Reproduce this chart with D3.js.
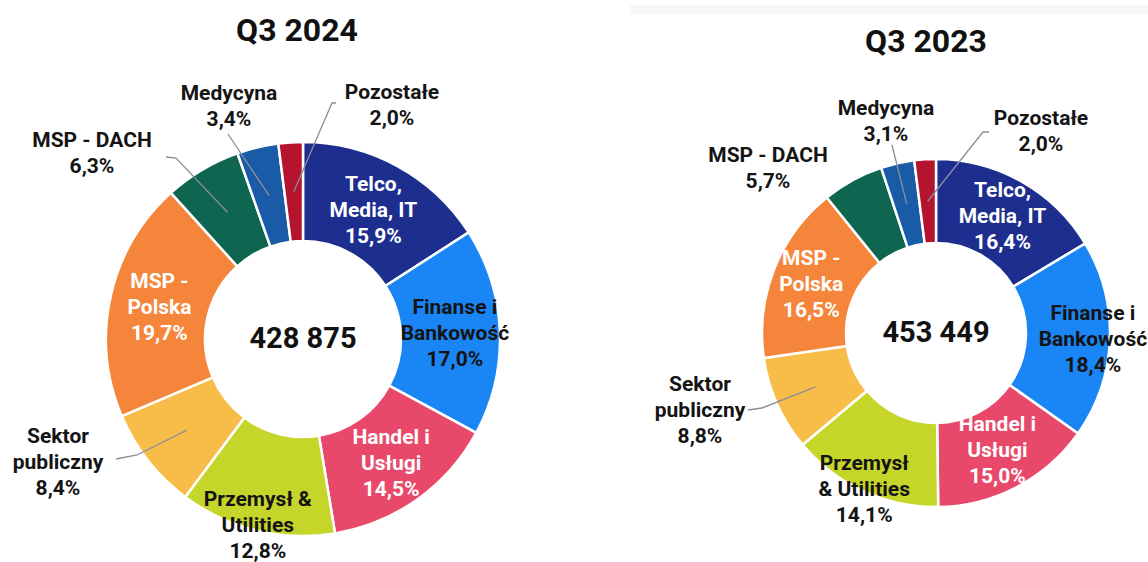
<!DOCTYPE html>
<html>
<head>
<meta charset="utf-8">
<script src="https://cdn.jsdelivr.net/npm/d3@7"></script>
<style>
  body { margin: 0; background: #fff; }
  svg { display: block; font-family: Roboto, "Noto Sans", sans-serif; }
</style>
</head>
<body>
<svg id="chart" width="1148" height="562"></svg>
<script>
// categories, clockwise from 12 o'clock
const categories = ["Telco", "Finanse", "Handel", "Przemysl", "Sektor", "MSP-Polska", "MSP-DACH", "Medycyna", "Pozostale"];
const share2024 = [15.9, 17.0, 14.5, 12.8, 8.4, 19.7, 6.3, 3.4, 2.0];
const share2023 = [16.4, 18.4, 15.0, 14.1, 8.8, 16.5, 5.7, 3.1, 2.0];
const labels2024 = [["Telco,", "Media, IT"], ["Finanse i", "Bankowość"], ["Handel i", "Usługi"], ["Przemysł &", "Utilities"],
  ["Sektor", "publiczny"], ["MSP -", "Polska"], ["MSP - DACH"], ["Medycyna"], ["Pozostałe"]];
const labels2023 = [["Telco,", "Media, IT"], ["Finanse i", "Bankowość"], ["Handel i", "Usługi"], ["Przemysł", "& Utilities"],
  ["Sektor", "publiczny"], ["MSP -", "Polska"], ["MSP - DACH"], ["Medycyna"], ["Pozostałe"]];
const titles = ["Q3 2024", "Q3 2023"];
const totals = ["428 875", "453 449"];

const colors = d3.scaleOrdinal()
  .domain(categories)
  .range(["#1d2e8f", "#1a85f5", "#e8496b", "#c6d52a", "#f7bd48", "#f5853a", "#0f6650", "#1a5ba8", "#b4142e"]);
const textColor = { "Telco": "#fff", "Handel": "#fff", "MSP-Polska": "#fff" };

const svg = d3.select("#chart");
const fmt = v => v.toFixed(1).replace(".", ",") + "%";
const lineH = 26;

// faint divider at the top right
svg.append("rect").attr("x", 630).attr("y", 5).attr("width", 518).attr("height", 9).attr("fill", "#f8f8f8");

// layout of each donut; inside labels use a radius, outside labels a text spot and leader points
const charts = [
  {
    values: share2024, labels: labels2024, title: titles[0], total: totals[0],
    cx: 303, cy: 339, R: 197, r: 98, titleX: 297, titleY: 41,
    inside: { "Telco": 147, "Finanse": 152, "Handel": 152, "Przemysl": 191, "MSP-Polska": 147 },
    outside: {
      "Sektor":    { x: 58,  y: 443, path: [[137, 455], [116, 459]] },
      "MSP-DACH":  { x: 92,  y: 147, path: [[176, 158], [166, 157]] },
      "Medycyna":  { x: 229, y: 100, path: [[228, 134]] },
      "Pozostale": { x: 392, y: 99,  path: [[332, 103], [336, 103]] }
    }
  },
  {
    values: share2023, labels: labels2023, title: titles[1], total: totals[1],
    cx: 936, cy: 333, R: 174, r: 90, titleX: 926, titleY: 52,
    inside: { "Telco": 135, "Finanse": 157, "Handel": 132, "Przemysl": 172, "MSP-Polska": 134 },
    outside: {
      "Sektor":    { x: 700,  y: 391, path: [[762, 408], [748, 410]] },
      "MSP-DACH":  { x: 768,  y: 162, path: null },
      "Medycyna":  { x: 886,  y: 115, path: [[892, 145]] },
      "Pozostale": { x: 1041, y: 125, path: [[983, 132], [989, 132]] }
    }
  }
];

const pie = d3.pie().sort(null).value(d => d.value);

charts.forEach(c => {
  const data = categories.map((k, i) => ({ key: k, value: c.values[i], lines: c.labels[i] }));
  const arcs = pie(data);
  const arc = d3.arc().innerRadius(c.r).outerRadius(c.R);
  const g = svg.append("g").attr("transform", `translate(${c.cx},${c.cy})`);

  g.selectAll("path.slice")
    .data(arcs)
    .enter()
    .append("path")
    .attr("class", "slice")
    .attr("d", arc)
    .attr("fill", d => colors(d.data.key))
    .attr("stroke", "#fff")
    .attr("stroke-width", 2.5);

  // title and total
  svg.append("text")
    .attr("x", c.titleX).attr("y", c.titleY)
    .attr("text-anchor", "middle")
    .attr("font-size", 32).attr("font-weight", 700).attr("fill", "#111")
    .text(c.title);
  g.append("text")
    .attr("x", 0).attr("y", 9)
    .attr("text-anchor", "middle")
    .attr("font-size", 29).attr("font-weight", 700).attr("fill", "#111")
    .text(c.total);

  arcs.forEach(d => {
    const key = d.data.key;
    const lines = d.data.lines.concat([fmt(d.data.value)]);
    let x, y0;
    if (c.inside[key] !== undefined) {
      const lr = c.inside[key];
      const [px, py] = d3.arc().innerRadius(lr).outerRadius(lr).centroid(d);
      x = c.cx + px;
      y0 = c.cy + py - (lines.length - 1) * lineH / 2 + 7;
    } else {
      const o = c.outside[key];
      x = o.x; y0 = o.y;
      if (o.path) {
        const lr = (c.R + c.r) / 2;
        const [px, py] = d3.arc().innerRadius(lr).outerRadius(lr).centroid(d);
        const pts = [[c.cx + px, c.cy + py]].concat(o.path);
        svg.append("path")
          .attr("d", d3.line()(pts))
          .attr("fill", "none")
          .attr("stroke", "#8d8d9c")
          .attr("stroke-width", 1.3);
      }
    }
    const t = svg.append("text")
      .attr("text-anchor", "middle")
      .attr("font-size", 21).attr("font-weight", 700)
      .attr("fill", textColor[key] || "#141414");
    lines.forEach((s, i) => {
      t.append("tspan").attr("x", x).attr("y", y0 + i * lineH).text(s);
    });
  });
});
</script>
</body>
</html>
